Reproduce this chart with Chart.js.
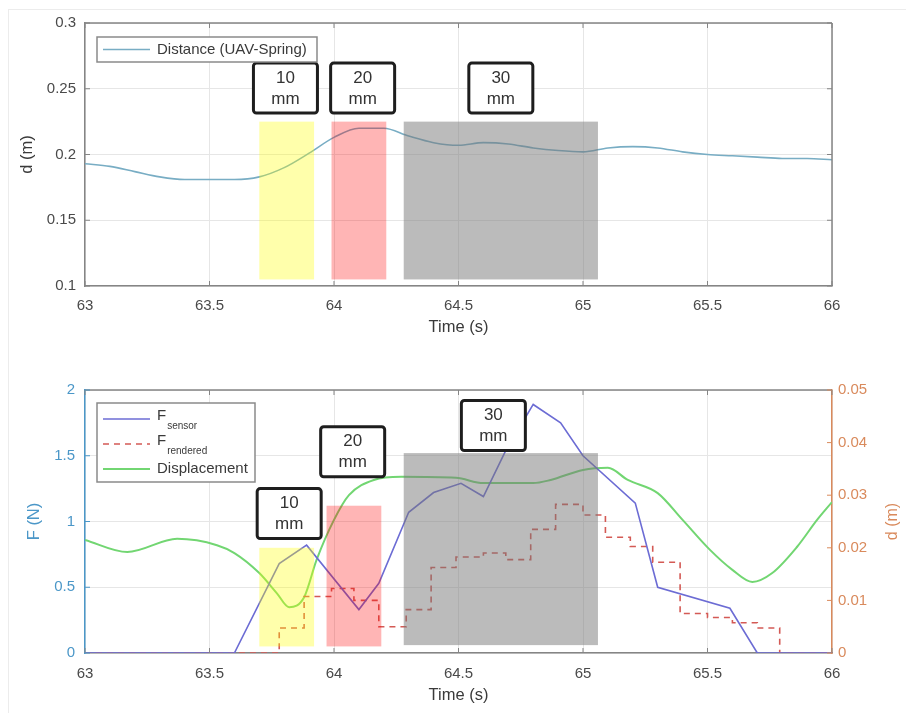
<!DOCTYPE html>
<html>
<head>
<meta charset="utf-8">
<script src="https://cdn.jsdelivr.net/npm/chart.js@4.4.0/dist/chart.umd.min.js"></script>
<style>
  html, body { margin: 0; padding: 0; background: #fff; }
  #fig { position: relative; width: 906px; height: 713px; overflow: hidden; }
  #frame { position: absolute; left: 8px; top: 9px; right: 0; bottom: 0; border-left: 1px solid #ececec; border-top: 1px solid #ececec; }
  canvas { position: absolute; left: 0; }
  #topChart { top: 0; }
  #bottomChart { top: 345px; }
</style>
</head>
<body>
<div id="fig">
  <div id="frame"></div>
  <canvas id="topChart" width="906" height="345"></canvas>
  <canvas id="bottomChart" width="906" height="368"></canvas>
</div>
<script>
// ---- top plot: distance UAV - spring ----
const topTime = [63.0, 63.1, 63.2, 63.3, 63.4, 63.5, 63.6, 63.7, 63.8, 63.9,
                 64.0, 64.1, 64.2, 64.3, 64.4, 64.5, 64.6, 64.7, 64.8, 64.9,
                 65.0, 65.1, 65.2, 65.3, 65.4, 65.5, 65.6, 65.7, 65.8, 65.9, 66.0];
const topDistance = [0.193, 0.191, 0.187, 0.183, 0.181, 0.181, 0.181, 0.183, 0.190, 0.201,
                     0.213, 0.220, 0.220, 0.214, 0.209, 0.207, 0.209, 0.208, 0.205, 0.203,
                     0.202, 0.205, 0.206, 0.205, 0.202, 0.200, 0.199, 0.198, 0.197, 0.197, 0.196];

// contact windows (s) and their vertical extent
const windowLabels = ['10', '20', '30'];
const topWinStart = [63.70, 63.99, 64.28];
const topWinEnd = [63.92, 64.21, 65.06];
const topWinHigh = [0.225, 0.225, 0.225];
const topWinLow = [0.105, 0.105, 0.105];
const topLabelX = [63.805, 64.115, 64.67];
const topLabelY = [0.2505, 0.2505, 0.2505];

// ---- bottom plot: forces and displacement ----
const fsTime = [63.0, 63.6, 63.78, 63.89, 64.10, 64.18, 64.30, 64.40, 64.51, 64.60,
                64.69, 64.80, 64.91, 65.00, 65.21, 65.30, 65.59, 65.70, 66.0];
const fsForce = [0, 0, 0.68, 0.82, 0.33, 0.53, 1.07, 1.22, 1.29, 1.19,
                 1.54, 1.89, 1.75, 1.50, 1.14, 0.50, 0.34, 0, 0];

const frTime = [63.0, 63.78, 63.88, 63.99, 64.08, 64.18, 64.29, 64.39, 64.49, 64.60, 64.69, 64.79,
                64.89, 65.00, 65.09, 65.19, 65.28, 65.39, 65.50, 65.60, 65.70, 65.79, 66.0];
const frForce = [0, 0.19, 0.43, 0.49, 0.40, 0.20, 0.33, 0.65, 0.73, 0.76, 0.71, 0.94,
                 1.13, 1.05, 0.88, 0.81, 0.69, 0.30, 0.27, 0.23, 0.19, 0, 0];

const dispTime = [63.0, 63.17, 63.37, 63.53, 63.6, 63.7, 63.77, 63.82, 63.88, 63.93,
                  64.0, 64.06, 64.16, 64.27, 64.49, 64.6, 64.8, 64.87, 65.0, 65.1,
                  65.18, 65.3, 65.4, 65.51, 65.6, 65.68, 65.76, 65.86, 65.94, 66.0];
const dispValue = [0.0215, 0.0192, 0.0217, 0.0205, 0.0190, 0.0152, 0.0114, 0.0087, 0.0106, 0.0177,
                   0.0253, 0.0300, 0.0329, 0.0335, 0.0333, 0.0323, 0.0323, 0.0329, 0.0348, 0.0352,
                   0.0329, 0.0304, 0.0253, 0.0196, 0.0158, 0.0135, 0.0152, 0.0202, 0.0253, 0.0287];

const botWinStart = [63.70, 63.97, 64.28];
const botWinEnd = [63.92, 64.19, 65.06];
const botWinHigh = [0.80, 1.12, 1.52];
const botWinLow = [0.05, 0.05, 0.06];
const botLabelX = [63.82, 64.075, 64.64];
const botLabelY = [1.06, 1.53, 1.73];

const FONT = '"Liberation Sans", Arial, sans-serif';
const GRID = '#e6e6e6';
const FRAME = '#858585';
const LEFT_BLUE = '#4b97c8';
const RIGHT_ORANGE = '#d98a5c';
const shadeColors = ['rgba(255,255,0,0.33)', 'rgba(255,0,0,0.29)', 'rgba(120,120,120,0.5)'];

const pts = (xs, ys) => xs.map((t, i) => ({x: t, y: ys[i]}));
const fmt = v => String(+v.toFixed(2));

function line(ctx, x1, y1, x2, y2) {
  ctx.beginPath(); ctx.moveTo(x1, y1); ctx.lineTo(x2, y2); ctx.stroke();
}

// shaded windows, frame, inner ticks, mm boxes, legend
const extras = {
  id: 'extras',
  afterDatasetsDraw(chart, args, o) {
    const ctx = chart.ctx;
    const {left, right, top, bottom} = chart.chartArea;
    const xs = chart.scales.x, ys = chart.scales.y, y1 = chart.scales.y1;
    ctx.save();

    o.winStart.forEach((s, i) => {
      const xa = xs.getPixelForValue(s), xb = xs.getPixelForValue(o.winEnd[i]);
      const ya = ys.getPixelForValue(o.winHigh[i]), yb = ys.getPixelForValue(o.winLow[i]);
      ctx.fillStyle = shadeColors[i];
      ctx.fillRect(xa, ya, xb - xa, yb - ya);
    });

    // box edges + ticks pointing inwards
    ctx.strokeStyle = FRAME; ctx.lineWidth = 1.5;
    line(ctx, left, top, right, top);
    if (!y1) line(ctx, right, top, right, bottom);
    ctx.lineWidth = 1;
    xs.ticks.forEach(t => {
      const px = xs.getPixelForValue(t.value);
      line(ctx, px, bottom, px, bottom - 5);
      line(ctx, px, top, px, top + 5);
    });
    ctx.strokeStyle = y1 ? LEFT_BLUE : FRAME;
    ys.ticks.forEach(t => {
      const py = ys.getPixelForValue(t.value);
      line(ctx, left, py, left + 5, py);
      if (!y1) line(ctx, right, py, right - 5, py);
    });
    if (y1) {
      ctx.strokeStyle = RIGHT_ORANGE;
      y1.ticks.forEach(t => {
        const py = y1.getPixelForValue(t.value);
        line(ctx, right, py, right - 5, py);
      });
      // right title reads bottom-to-top like the left one
      ctx.save();
      ctx.translate(893, (top + bottom) / 2);
      ctx.rotate(-Math.PI / 2);
      ctx.fillStyle = RIGHT_ORANGE; ctx.font = '16px ' + FONT;
      ctx.textAlign = 'center'; ctx.textBaseline = 'middle';
      ctx.fillText('d (m)', 0, 0);
      ctx.restore();
    }

    // "xx mm" boxes
    o.labelX.forEach((lx, i) => {
      const cx = xs.getPixelForValue(lx), cy = ys.getPixelForValue(o.labelY[i]);
      ctx.beginPath();
      ctx.roundRect(cx - 32, cy - 25, 64, 50, 3);
      ctx.fillStyle = '#fff'; ctx.fill();
      ctx.strokeStyle = '#1e1e1e'; ctx.lineWidth = 3; ctx.stroke();
      ctx.fillStyle = '#333'; ctx.font = '17px ' + FONT;
      ctx.textAlign = 'center'; ctx.textBaseline = 'middle';
      ctx.fillText(windowLabels[i], cx, cy - 10);
      ctx.fillText('mm', cx, cy + 11);
    });

    // legend
    const lg = o.legend;
    ctx.beginPath(); ctx.rect(lg.x, lg.y, lg.w, lg.h);
    ctx.fillStyle = '#fff'; ctx.fill();
    ctx.strokeStyle = '#8a8a8a'; ctx.lineWidth = 1.5; ctx.stroke();
    chart.data.datasets.forEach((ds, i) => {
      const cy = lg.y + lg.first + i * lg.row;
      ctx.strokeStyle = ds.borderColor; ctx.lineWidth = ds.borderWidth;
      ctx.setLineDash(ds.borderDash || []);
      line(ctx, lg.x + 6, cy, lg.x + 53, cy);
      ctx.setLineDash([]);
      const [main, sub] = ds.label.split('_');
      ctx.fillStyle = '#3a3a3a'; ctx.textAlign = 'left'; ctx.textBaseline = 'middle';
      ctx.font = '15px ' + FONT;
      if (sub) {
        ctx.fillText(main, lg.x + 60, cy - 3);
        const w = ctx.measureText(main).width;
        ctx.font = '10px ' + FONT;
        ctx.fillText(sub, lg.x + 61 + w, cy + 7);
      } else {
        ctx.fillText(main, lg.x + 60, cy);
      }
    });
    ctx.restore();
  }
};

const xAxis = (pad) => ({
  type: 'linear', min: 63, max: 66,
  afterFit: s => { s.height = pad.h; },
  ticks: { stepSize: 0.5, padding: pad.tp, color: '#4a4a4a', font: { family: FONT, size: 15 }, callback: fmt, maxRotation: 0 },
  grid: { color: GRID, drawTicks: false },
  border: { color: FRAME, width: 1.5 },
  title: { display: true, text: 'Time (s)', color: '#3a3a3a', font: { family: FONT, size: 16.5 }, padding: { top: 0, bottom: 8 } }
});

new Chart(document.getElementById('topChart'), {
  type: 'line',
  data: {
    datasets: [{
      label: 'Distance (UAV-Spring)',
      data: pts(topTime, topDistance),
      borderColor: '#78adc4',
      borderWidth: 1.6,
      pointRadius: 0,
      cubicInterpolationMode: 'monotone'
    }]
  },
  options: {
    responsive: false,
    animation: false,
    layout: { padding: { top: 23, right: 74, left: 0, bottom: 0 } },
    plugins: {
      legend: { display: false },
      tooltip: { enabled: false },
      extras: {
        winStart: topWinStart, winEnd: topWinEnd, winHigh: topWinHigh, winLow: topWinLow,
        labelX: topLabelX, labelY: topLabelY,
        legend: { x: 97, y: 37, w: 220, h: 25, first: 12.5, row: 25 }
      }
    },
    scales: {
      x: xAxis({ h: 59, tp: 11 }),
      y: {
        min: 0.1, max: 0.3,
        afterFit: s => { s.width = 85; },
        ticks: { stepSize: 0.05, padding: 9, color: '#4a4a4a', font: { family: FONT, size: 15 }, callback: fmt },
        grid: { color: GRID, drawTicks: false },
        border: { color: FRAME, width: 1.5 },
        title: { display: true, text: 'd (m)', color: '#3a3a3a', font: { family: FONT, size: 16.5 }, padding: { top: 18, bottom: 0 } }
      }
    }
  },
  plugins: [extras]
});

new Chart(document.getElementById('bottomChart'), {
  type: 'line',
  data: {
    datasets: [
      {
        label: 'F_sensor',
        data: pts(fsTime, fsForce),
        borderColor: '#6c6cd4',
        borderWidth: 1.6,
        pointRadius: 0,
        tension: 0,
        yAxisID: 'y'
      },
      {
        label: 'F_rendered',
        data: pts(frTime, frForce),
        borderColor: '#d45a55',
        borderWidth: 1.6,
        borderDash: [6, 5],
        pointRadius: 0,
        stepped: 'before',
        yAxisID: 'y'
      },
      {
        label: 'Displacement',
        data: pts(dispTime, dispValue),
        borderColor: '#72d672',
        borderWidth: 2,
        pointRadius: 0,
        cubicInterpolationMode: 'monotone',
        yAxisID: 'y1'
      }
    ]
  },
  options: {
    responsive: false,
    animation: false,
    layout: { padding: { top: 45, right: 0, left: 0, bottom: 0 } },
    plugins: {
      legend: { display: false },
      tooltip: { enabled: false },
      extras: {
        winStart: botWinStart, winEnd: botWinEnd, winHigh: botWinHigh, winLow: botWinLow,
        labelX: botLabelX, labelY: botLabelY,
        legend: { x: 97, y: 58, w: 158, h: 79, first: 16, row: 25 }
      }
    },
    scales: {
      x: xAxis({ h: 60, tp: 12 }),
      y: {
        position: 'left',
        min: 0, max: 2,
        afterFit: s => { s.width = 85; },
        ticks: { stepSize: 0.5, padding: 10, color: LEFT_BLUE, font: { family: FONT, size: 15 }, callback: fmt },
        grid: { color: GRID, drawTicks: false },
        border: { color: LEFT_BLUE, width: 1.5 },
        title: { display: true, text: 'F (N)', color: LEFT_BLUE, font: { family: FONT, size: 16.5 }, padding: { top: 25, bottom: 0 } }
      },
      y1: {
        position: 'right',
        min: 0, max: 0.05,
        afterFit: s => { s.width = 74; },
        ticks: { stepSize: 0.01, padding: 6, color: RIGHT_ORANGE, font: { family: FONT, size: 15 }, callback: fmt },
        grid: { display: false, drawTicks: false },
        border: { color: RIGHT_ORANGE, width: 1.5 }
      }
    }
  },
  plugins: [extras]
});
</script>
</body>
</html>
